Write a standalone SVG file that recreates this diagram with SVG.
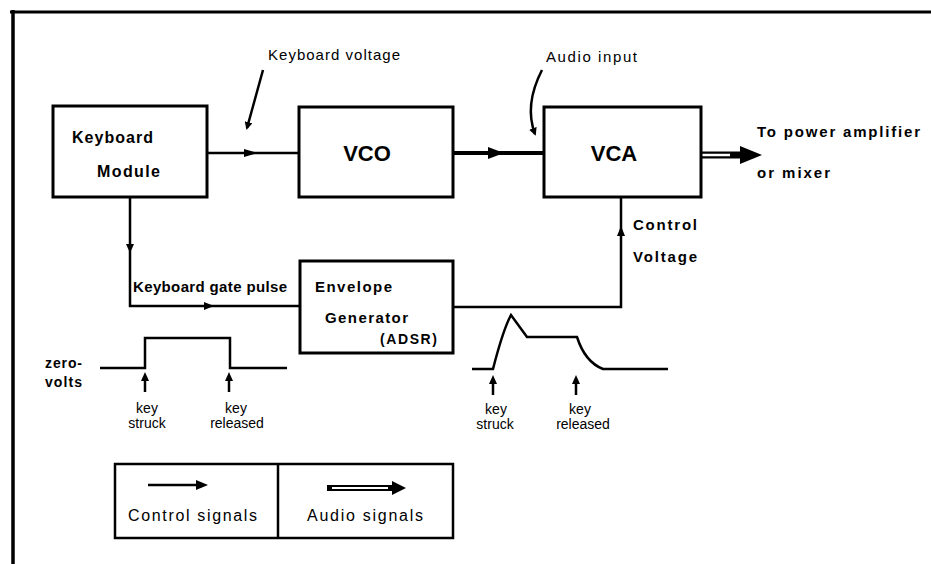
<svg xmlns="http://www.w3.org/2000/svg" width="931" height="564" viewBox="0 0 931 564">
<defs>
<style>
.box{fill:#fff;stroke:#000;stroke-width:3}
.ln{fill:none;stroke:#000;stroke-width:2.5}
.thk{fill:none;stroke:#000;stroke-width:4}
.t{font-family:"Liberation Sans",Arial,sans-serif;fill:#000}
.b{font-weight:bold}
.big{font-family:"Liberation Sans",Arial,sans-serif;font-weight:bold;font-size:22px;fill:#000}
</style>
<marker id="ah" markerWidth="8" markerHeight="8" refX="6" refY="4" orient="auto" markerUnits="userSpaceOnUse">
<path d="M0,0 L8,4 L0,8 Z" fill="#000"/>
</marker>
</defs>
<rect width="931" height="564" fill="#fff"/>
<g id="frame">
<line x1="10" y1="12" x2="931" y2="12" stroke="#000" stroke-width="3"/>
<line x1="13" y1="10" x2="13" y2="564" stroke="#000" stroke-width="3.5"/>
</g>
<g id="connectors">
<line class="ln" x1="207" y1="153" x2="299" y2="153"/>
<path d="M244,149 L258,153 L244,157 Z" fill="#000"/>
<line class="thk" x1="453" y1="153" x2="544" y2="153"/>
<path d="M488,147 L504,153 L488,159 Z" fill="#000"/>
<line x1="701" y1="155" x2="748" y2="155" stroke="#000" stroke-width="7"/>
<line x1="701" y1="155" x2="730" y2="155" stroke="#fff" stroke-width="2.5"/>
<path d="M740,146 L762,155 L740,164 Z" fill="#000"/>
<path class="ln" d="M621,197 V307 H453"/>
<path d="M617,236 L621,226 L625,236 Z" fill="#000"/>
<path class="ln" d="M130,197 V306 H300"/>
<path d="M126,244 L130,253 L134,244 Z" fill="#000"/>
<path d="M204,302 L214,306 L204,310 Z" fill="#000"/>
<path d="M263,70 L247,128" fill="none" stroke="#000" stroke-width="2.5" marker-end="url(#ah)"/>
<path d="M542,70 Q524,105 535,134" fill="none" stroke="#000" stroke-width="2.5" marker-end="url(#ah)"/>
</g>
<g id="keyboard-module">
<rect class="box" x="53" y="106" width="154" height="91"/>
<text class="t b" x="72" y="143" font-size="16" textLength="81">Keyboard</text>
<text class="t b" x="97" y="177" font-size="16" textLength="63">Module</text>
</g>
<g id="vco">
<rect class="box" x="299" y="107" width="154" height="90"/>
<text class="big" x="367" y="161" text-anchor="middle">VCO</text>
</g>
<g id="vca">
<rect class="box" x="544" y="107" width="157" height="90"/>
<text class="big" x="614" y="161" text-anchor="middle">VCA</text>
</g>
<g id="envelope-generator">
<rect class="box" x="300" y="261" width="153" height="92"/>
<text class="t b" x="315" y="292" font-size="15" textLength="77">Envelope</text>
<text class="t b" x="325" y="323" font-size="15" textLength="83">Generator</text>
<text class="t b" x="380" y="344" font-size="14" textLength="57">(ADSR)</text>
</g>
<g id="labels">
<text class="t" x="268" y="60" font-size="15" textLength="132">Keyboard voltage</text>
<text class="t" x="546" y="62" font-size="15" textLength="91">Audio input</text>
<text class="t b" x="757" y="137" font-size="15" textLength="163">To power amplifier</text>
<text class="t b" x="757" y="178" font-size="15" textLength="73">or mixer</text>
<text class="t b" x="633" y="230" font-size="15" textLength="64">Control</text>
<text class="t b" x="633" y="262" font-size="15" textLength="64">Voltage</text>
<text class="t b" x="133" y="292" font-size="15" textLength="154">Keyboard gate pulse</text>
</g>
<g id="gate-waveform">
<path class="ln" d="M100,368 H145 V338 H230 V368 H287"/>
<text class="t b" x="45" y="368" font-size="14" textLength="37">zero-</text>
<text class="t b" x="45" y="387" font-size="14" textLength="37">volts</text>
<line x1="145" y1="392" x2="145" y2="380" stroke="#000" stroke-width="2.5"/>
<path d="M141,381 L145,372 L149,381 Z" fill="#000"/>
<line x1="229" y1="392" x2="229" y2="380" stroke="#000" stroke-width="2.5"/>
<path d="M225,381 L229,372 L233,381 Z" fill="#000"/>
<text class="t" x="147" y="413" font-size="14" text-anchor="middle">key</text>
<text class="t" x="147" y="428" font-size="14" text-anchor="middle">struck</text>
<text class="t" x="236" y="413" font-size="14" text-anchor="middle">key</text>
<text class="t" x="237" y="428" font-size="14" text-anchor="middle">released</text>
</g>
<g id="adsr-waveform">
<path class="ln" d="M472,369 H493 Q503,330 511,315 L527,337 H577 Q585,362 603,369 H668"/>
<line x1="493" y1="395" x2="493" y2="383" stroke="#000" stroke-width="2.5"/>
<path d="M489,384 L493,375 L497,384 Z" fill="#000"/>
<line x1="576" y1="395" x2="576" y2="383" stroke="#000" stroke-width="2.5"/>
<path d="M572,384 L576,375 L580,384 Z" fill="#000"/>
<text class="t" x="496" y="414" font-size="14" text-anchor="middle">key</text>
<text class="t" x="495" y="429" font-size="14" text-anchor="middle">struck</text>
<text class="t" x="580" y="414" font-size="14" text-anchor="middle">key</text>
<text class="t" x="583" y="429" font-size="14" text-anchor="middle">released</text>
</g>
<g id="legend">
<rect x="115" y="464" width="338" height="74" fill="none" stroke="#000" stroke-width="2.5"/>
<line x1="278" y1="464" x2="278" y2="538" stroke="#000" stroke-width="2.5"/>
<line x1="148" y1="485" x2="198" y2="485" stroke="#000" stroke-width="2.5"/>
<path d="M196,480 L208,485 L196,490 Z" fill="#000"/>
<line x1="327" y1="488" x2="396" y2="488" stroke="#000" stroke-width="6"/>
<line x1="332" y1="488" x2="388" y2="488" stroke="#fff" stroke-width="2"/>
<path d="M392,481 L406,488 L392,495 Z" fill="#000"/>
<text class="t" x="128" y="521" font-size="16" textLength="129">Control signals</text>
<text class="t" x="307" y="521" font-size="16" textLength="116">Audio signals</text>
</g>
</svg>
